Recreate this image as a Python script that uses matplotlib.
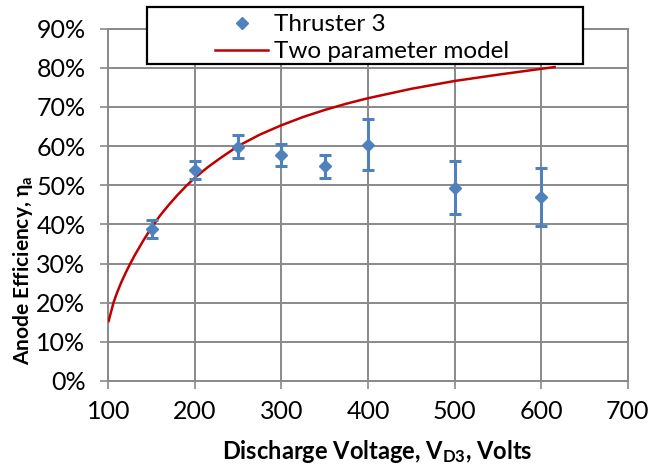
import matplotlib
matplotlib.use("Agg")
import matplotlib.pyplot as plt
from matplotlib.patches import Rectangle
from matplotlib.lines import Line2D
from matplotlib.ticker import MultipleLocator, FuncFormatter

# ---- data ----
voltage = [150, 200, 250, 300, 350, 400, 500, 600]
efficiency = [38.8, 53.8, 59.8, 57.7, 54.8, 60.3, 49.4, 47.0]
eff_error = [2.25, 2.25, 2.9, 2.8, 3.0, 6.55, 6.8, 7.3]

model_voltage = [100, 103, 106, 110, 115, 120, 125, 130, 140, 150, 160, 170,
                 180, 190, 200, 215, 230, 250, 275, 300, 325, 350, 375, 400,
                 450, 500, 550, 600, 617]
model_eff = [15.0, 17.5, 20.0, 22.5, 25.2, 27.6, 29.8, 31.9, 35.7, 39.2, 42.3,
             45.0, 47.5, 49.8, 51.9, 54.6, 57.0, 60.0, 62.9, 65.3, 67.4, 69.2,
             70.8, 72.2, 74.6, 76.6, 78.2, 79.7, 80.2]

series_labels = ["Thruster 3", "Two parameter model"]

# ---- style ----
plt.rcParams["font.family"] = ["Lato", "DejaVu Sans"]
plt.rcParams["mathtext.fontset"] = "custom"
plt.rcParams["mathtext.rm"] = "Lato"
plt.rcParams["mathtext.bf"] = "Lato:bold"
plt.rcParams["mathtext.it"] = "Lato:italic"

BLUE = "#4F81BD"
RED = "#C00000"
GRID = "#898989"

W, H = 650, 471
fig = plt.figure(figsize=(W / 100, H / 100), dpi=100)
ax = fig.add_axes([108.3 / W, 1 - 381 / H, 519.4 / W, 352.5 / H])

ax.set_xlim(100, 700)
ax.set_ylim(0, 90)
ax.xaxis.set_major_locator(MultipleLocator(100))
ax.yaxis.set_major_locator(MultipleLocator(10))
ax.yaxis.set_major_formatter(FuncFormatter(lambda v, p: f"{v:.0f}%"))

ax.grid(True, color=GRID, lw=1.4, zorder=0)
ax.set_axisbelow(True)
for s in ax.spines.values():
    s.set_color(GRID)
    s.set_linewidth(1.4)

ax.tick_params(axis="both", direction="out", color=GRID, width=1.2,
               length=5.5, labelsize=18, labelcolor="black")
ax.tick_params(axis="y", pad=11)
ax.tick_params(axis="x", pad=8)

ax.plot(model_voltage, model_eff, color=RED, lw=1.8, zorder=3,
        solid_capstyle="butt", solid_joinstyle="round")
ax.errorbar(voltage, efficiency, yerr=eff_error, fmt="D", color=BLUE,
            ms=6.4, ecolor=BLUE, elinewidth=2.2, capsize=4.2, capthick=2.2,
            zorder=4)

ax.set_xlabel(r"Discharge Voltage, V$_{\mathbf{D3}}$, Volts",
              fontsize=17, fontweight="bold")
ax.set_ylabel(r"Anode Efficiency, $\mathbf{\eta}_{\mathbf{a}}$",
              fontsize=15, fontweight="bold")
ax.xaxis.set_label_coords(0.518, -0.162)
ax.yaxis.set_label_coords(-0.141, 0.313)

# legend box
rect = Rectangle((147 / W, 1 - 64.3 / H), (583 - 147) / W, 57.6 / H,
                 transform=fig.transFigure, facecolor="white",
                 edgecolor="black", lw=1.6, zorder=4)
fig.add_artist(rect)
handles = [Line2D([], [], marker="D", color=BLUE, ls="none", ms=6.4),
           Line2D([], [], color=RED, lw=1.8)]
fig.legend(handles, series_labels, loc="upper left",
           bbox_to_anchor=(215 / W, 1 - 14 / H), frameon=False,
           fontsize=17.5, borderpad=0, handlelength=2.2,
           handletextpad=0.22, labelspacing=0.26, borderaxespad=0)

fig.savefig("out.png", dpi=100)
